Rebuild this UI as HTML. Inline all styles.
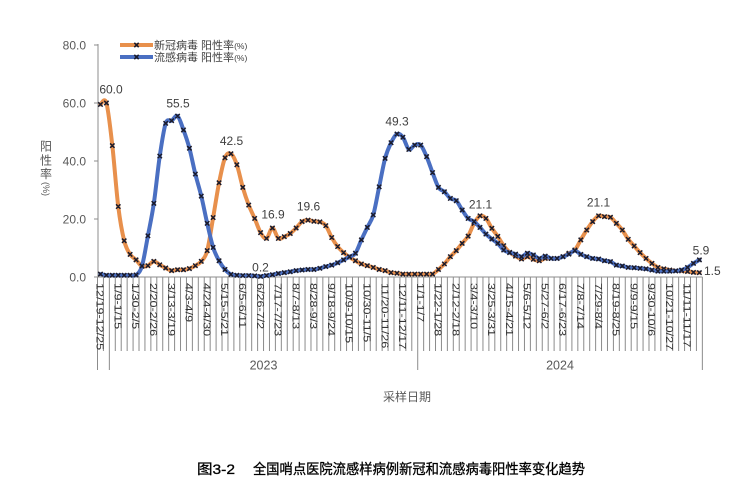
<!DOCTYPE html>
<html><head><meta charset="utf-8">
<style>
html,body{margin:0;padding:0;background:#fff;}
svg{display:block;}
text{font-family:"Liberation Sans","Noto Sans CJK SC",sans-serif;}
</style></head>
<body>
<svg id="c" width="751" height="500" viewBox="0 0 751 500" xmlns="http://www.w3.org/2000/svg">
<rect width="751" height="500" fill="#fff"/>
<g id="grid"></g>
<!-- axes -->
<line x1="98" y1="44" x2="98" y2="277" stroke="#8c8c8c" stroke-width="1"/>
<line x1="97.5" y1="277" x2="702.5" y2="277" stroke="#8c8c8c" stroke-width="1"/>
<g stroke="#8c8c8c" stroke-width="1">
<line x1="94" y1="45" x2="98" y2="45"/>
<line x1="94" y1="103" x2="98" y2="103"/>
<line x1="94" y1="161" x2="98" y2="161"/>
<line x1="94" y1="219" x2="98" y2="219"/>
<line x1="94" y1="277" x2="98" y2="277"/>
</g>
<g font-size="12" fill="#595959" text-anchor="end">
<text x="86" y="49.3">80.0</text>
<text x="86" y="107.3">60.0</text>
<text x="86" y="165.3">40.0</text>
<text x="86" y="223.3">20.0</text>
<text x="86" y="281.3">0.0</text>
</g>
<!-- y title -->
<g font-size="12" fill="#595959" text-anchor="middle" style="font-family:'Noto Sans CJK SC',sans-serif">
<text x="46" y="150.5">阳</text>
<text x="46" y="164.5">性</text>
<text x="46" y="178">率</text>
<text transform="translate(43,189) rotate(90)" font-size="9" text-anchor="middle">(%)</text>
</g>
<!-- series -->
<g id="series"></g>
<!-- data labels -->
<g font-size="12" fill="#404040" text-anchor="middle">
<text x="111" y="93.5">60.0</text>
<text x="178" y="107.5">55.5</text>
<text x="231.5" y="145">42.5</text>
<text x="273" y="218.5">16.9</text>
<text x="260.5" y="271.5">0.2</text>
<text x="308.5" y="210.5">19.6</text>
<text x="397" y="125.5">49.3</text>
<text x="480.5" y="208.5">21.1</text>
<text x="598.5" y="206.5">21.1</text>
<text x="701" y="254.5">5.9</text>
<text x="704" y="275" text-anchor="start">1.5</text>
</g>
<!-- x labels -->
<g font-size="10.5" fill="#333">
<text transform="translate(100.5,283) rotate(90) scale(1.2,1)" dy="0.36em">12/19-12/25</text>
<text transform="translate(118.3,283) rotate(90) scale(1.2,1)" dy="0.36em">1/9-1/15</text>
<text transform="translate(136.0,283) rotate(90) scale(1.2,1)" dy="0.36em">1/30-2/5</text>
<text transform="translate(153.8,283) rotate(90) scale(1.2,1)" dy="0.36em">2/20-2/26</text>
<text transform="translate(171.6,283) rotate(90) scale(1.2,1)" dy="0.36em">3/13-3/19</text>
<text transform="translate(189.4,283) rotate(90) scale(1.2,1)" dy="0.36em">4/3-4/9</text>
<text transform="translate(207.2,283) rotate(90) scale(1.2,1)" dy="0.36em">4/24-4/30</text>
<text transform="translate(225.0,283) rotate(90) scale(1.2,1)" dy="0.36em">5/15-5/21</text>
<text transform="translate(242.8,283) rotate(90) scale(1.2,1)" dy="0.36em">6/5-6/11</text>
<text transform="translate(260.6,283) rotate(90) scale(1.2,1)" dy="0.36em">6/26-7/2</text>
<text transform="translate(278.4,283) rotate(90) scale(1.2,1)" dy="0.36em">7/17-7/23</text>
<text transform="translate(296.2,283) rotate(90) scale(1.2,1)" dy="0.36em">8/7-8/13</text>
<text transform="translate(314.0,283) rotate(90) scale(1.2,1)" dy="0.36em">8/28-9/3</text>
<text transform="translate(331.7,283) rotate(90) scale(1.2,1)" dy="0.36em">9/18-9/24</text>
<text transform="translate(349.5,283) rotate(90) scale(1.2,1)" dy="0.36em">10/9-10/15</text>
<text transform="translate(367.3,283) rotate(90) scale(1.2,1)" dy="0.36em">10/30-11/5</text>
<text transform="translate(385.1,283) rotate(90) scale(1.2,1)" dy="0.36em">11/20-11/26</text>
<text transform="translate(402.9,283) rotate(90) scale(1.2,1)" dy="0.36em">12/11-12/17</text>
<text transform="translate(420.7,283) rotate(90) scale(1.2,1)" dy="0.36em">1/1-1/7</text>
<text transform="translate(438.5,283) rotate(90) scale(1.2,1)" dy="0.36em">1/22-1/28</text>
<text transform="translate(456.3,283) rotate(90) scale(1.2,1)" dy="0.36em">2/12-2/18</text>
<text transform="translate(474.1,283) rotate(90) scale(1.2,1)" dy="0.36em">3/4-3/10</text>
<text transform="translate(491.9,283) rotate(90) scale(1.2,1)" dy="0.36em">3/25-3/31</text>
<text transform="translate(509.6,283) rotate(90) scale(1.2,1)" dy="0.36em">4/15-4/21</text>
<text transform="translate(527.4,283) rotate(90) scale(1.2,1)" dy="0.36em">5/6-5/12</text>
<text transform="translate(545.2,283) rotate(90) scale(1.2,1)" dy="0.36em">5/27-6/2</text>
<text transform="translate(563.0,283) rotate(90) scale(1.2,1)" dy="0.36em">6/17-6/23</text>
<text transform="translate(580.8,283) rotate(90) scale(1.2,1)" dy="0.36em">7/8-7/14</text>
<text transform="translate(598.6,283) rotate(90) scale(1.2,1)" dy="0.36em">7/29-8/4</text>
<text transform="translate(616.4,283) rotate(90) scale(1.2,1)" dy="0.36em">8/19-8/25</text>
<text transform="translate(634.2,283) rotate(90) scale(1.2,1)" dy="0.36em">9/9-9/15</text>
<text transform="translate(652.0,283) rotate(90) scale(1.2,1)" dy="0.36em">9/30-10/6</text>
<text transform="translate(669.8,283) rotate(90) scale(1.2,1)" dy="0.36em">10/21-10/27</text>
<text transform="translate(687.5,283) rotate(90) scale(1.2,1)" dy="0.36em">11/11-11/17</text>
</g>
<g font-size="12.5" fill="#595959" text-anchor="middle">
<text x="263.5" y="369.5">2023</text>
<text x="560" y="369.5">2024</text>
</g>
<!-- legend -->
<line x1="120" y1="45" x2="153" y2="45" stroke="#E8904C" stroke-width="4"/>
<line x1="120" y1="57" x2="153" y2="57" stroke="#4A6FC2" stroke-width="4"/>
<path d="M134.3 42.8L138.7 47.2M134.3 47.2L138.7 42.8M134.3 54.8L138.7 59.2M134.3 59.2L138.7 54.8" stroke="#1b1b2b" stroke-width="1.6"/>
<g font-size="11" fill="#404040" style="font-family:'Noto Sans CJK SC',sans-serif">
<text x="154" y="49">新冠病毒 阳性率<tspan font-size="8.5">(%)</tspan></text>
<text x="154" y="61">流感病毒 阳性率<tspan font-size="8.5">(%)</tspan></text>
</g>
<text x="407" y="401" font-size="12" fill="#595959" text-anchor="middle" style="font-family:'Noto Sans CJK SC',sans-serif">采样日期</text>
<g font-size="14" fill="#000" stroke="#000" stroke-width="0.3" style="font-family:'Noto Sans CJK SC',sans-serif">
<text x="197" y="474" textLength="38" lengthAdjust="spacingAndGlyphs">图3-2</text>
<text x="253" y="474" textLength="332" lengthAdjust="spacingAndGlyphs">全国哨点医院流感样病例新冠和流感病毒阳性率变化趋势</text>
</g>
</svg>
<script>
(function(){
var NS="http://www.w3.org/2000/svg";
var O=[59.5,60.0,45.3,24.3,12.5,7.8,5.9,3.7,3.9,5.4,4.2,3.1,2.2,2.5,2.5,2.9,3.9,5.4,9.1,20.5,32.5,41.1,42.5,38.7,30.9,24.8,20.2,15.3,13.3,16.9,13.3,13.9,15.0,16.9,19.1,19.6,19.2,19.0,17.7,13.6,10.5,8.4,6.8,5.6,4.5,3.9,3.3,2.6,2.2,1.5,1.3,1.0,1.0,1.0,1.0,1.0,1.0,2.6,4.5,7.0,9.1,11.6,14.1,18.5,21.1,20.2,16.8,14.0,10.8,8.5,7.2,6.2,7.0,6.1,5.6,6.4,6.4,6.4,7.0,8.2,9.3,12.8,16.2,19.1,21.1,20.8,20.6,18.5,16.2,13.0,10.7,8.4,6.4,4.7,3.3,2.8,2.4,2.1,2.1,1.9,1.6,1.5];
var B=[1.0,0.6,0.6,0.6,0.6,0.6,0.7,3.8,14.2,25.4,41.7,53.0,53.9,55.5,50.7,44.4,35.5,27.9,18.5,10.2,5.6,2.6,0.9,0.6,0.5,0.5,0.4,0.2,0.5,0.8,1.2,1.5,1.8,2.2,2.4,2.6,2.6,3.0,3.6,4.1,4.9,5.9,7.0,8.2,12.8,17.1,21.4,31.1,40.9,46.3,49.3,48.2,44.0,45.5,45.5,41.5,36.0,30.9,29.4,27.1,26.3,23.1,20.2,19.1,17.1,14.8,13.1,11.6,9.3,8.4,7.9,7.0,8.2,7.6,6.4,7.2,6.4,6.4,7.0,7.9,9.1,7.8,7.0,6.4,6.2,5.6,5.3,4.1,3.8,3.3,3.2,3.0,2.8,2.4,2.0,2.0,2.0,2.1,2.4,3.3,4.7,5.9];
function X(i){return 100.465+5.93*i;}
function Y(v){return 277-v*2.9;}
function smooth(vals){
 var p=vals.map(function(v,i){return [X(i),Y(v)];});
 var n=p.length, d="M"+p[0][0].toFixed(2)+" "+p[0][1].toFixed(2);
 for(var i=0;i<n-1;i++){
  var p0=p[Math.max(i-1,0)],p1=p[i],p2=p[i+1],p3=p[Math.min(i+2,n-1)];
  var c1x=p1[0]+(p2[0]-p0[0])/6,c1y=p1[1]+(p2[1]-p0[1])/6;
  var c2x=p2[0]-(p3[0]-p1[0])/6,c2y=p2[1]-(p3[1]-p1[1])/6;
  d+="C"+c1x.toFixed(2)+" "+c1y.toFixed(2)+" "+c2x.toFixed(2)+" "+c2y.toFixed(2)+" "+p2[0].toFixed(2)+" "+p2[1].toFixed(2);
 }
 return d;
}
function marks(vals){
 var s=2.2,d="";
 vals.forEach(function(v,i){var x=X(i),y=Y(v);
  d+="M"+(x-s).toFixed(2)+" "+(y-s).toFixed(2)+"L"+(x+s).toFixed(2)+" "+(y+s).toFixed(2)+"M"+(x-s).toFixed(2)+" "+(y+s).toFixed(2)+"L"+(x+s).toFixed(2)+" "+(y-s).toFixed(2);});
 return d;
}
function el(tag,attrs,parent){var e=document.createElementNS(NS,tag);for(var k in attrs)e.setAttribute(k,attrs[k]);parent.appendChild(e);return e;}
var g=document.getElementById("series");
el("path",{d:smooth(O),fill:"none",stroke:"#E8904C","stroke-width":"4","stroke-linejoin":"round","stroke-linecap":"round"},g);
el("path",{d:marks(O),fill:"none",stroke:"#1b1b2b","stroke-width":"1.5"},g);
el("path",{d:smooth(B),fill:"none",stroke:"#4A6FC2","stroke-width":"4","stroke-linejoin":"round","stroke-linecap":"round"},g);
el("path",{d:marks(B),fill:"none",stroke:"#1b1b2b","stroke-width":"1.5"},g);
var gr=document.getElementById("grid"),d="";
for(var k=0;k<=102;k++){var x=(97.5+5.93*k).toFixed(2);
 var yb=(k==0||k==2||k==54||k==102)?370:351;
 d+="M"+x+" 277L"+x+" "+yb;}
el("path",{d:d,fill:"none",stroke:"#8c8c8c","stroke-width":"1"},gr);
})();
</script>
</body></html>
